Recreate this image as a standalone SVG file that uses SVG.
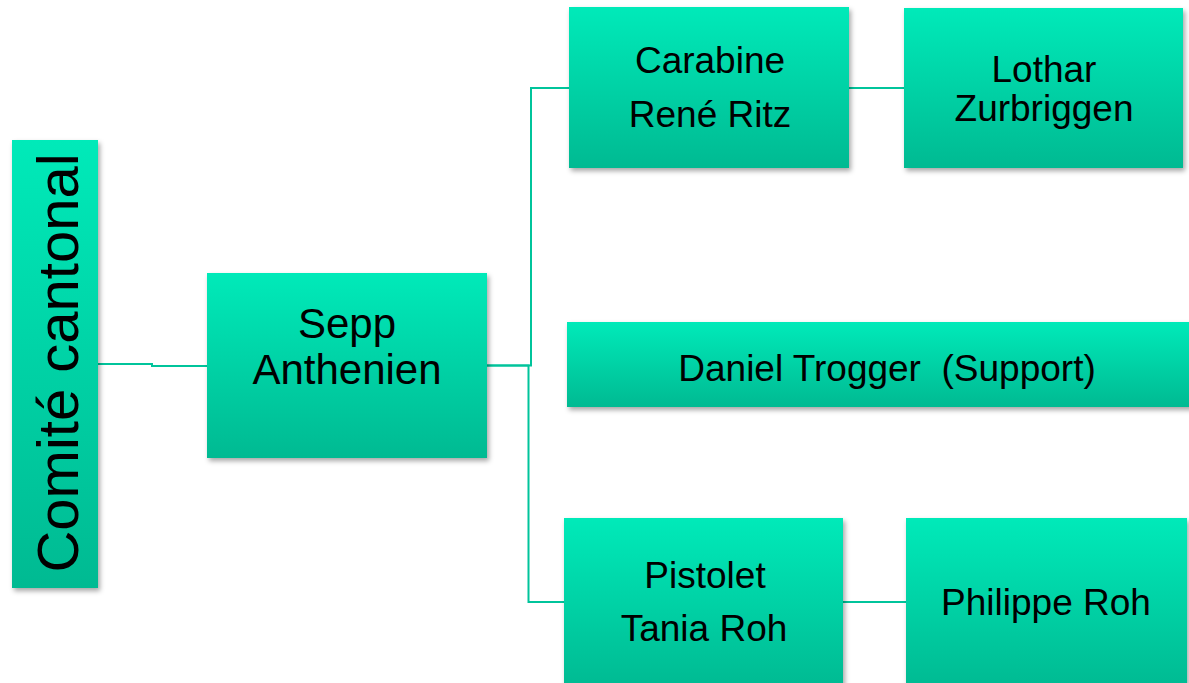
<svg xmlns="http://www.w3.org/2000/svg" width="1189" height="683" viewBox="0 0 1189 683">
<defs>
<linearGradient id="g" x1="0" y1="0" x2="0" y2="1">
<stop offset="0" stop-color="#00EAB9"/>
<stop offset="1" stop-color="#00BA92"/>
</linearGradient>
<filter id="sh" x="-10%" y="-10%" width="130%" height="130%">
<feDropShadow dx="2" dy="3" stdDeviation="2.5" flood-color="#000" flood-opacity="0.35"/>
</filter>
<style>
.box{fill:url(#g);filter:url(#sh);}
.t{font-family:"Liberation Sans",Arial,sans-serif;font-size:37px;fill:#000;text-anchor:middle;}
.c{fill:none;stroke:#00C49B;stroke-width:2;}
</style>
</defs>
<rect width="1189" height="683" fill="#fff"/>
<g id="connectors">
<path class="c" d="M98 364 H152 V366 H207"/>
<path class="c" d="M487 365.5 H531 V88 H569"/>
<path class="c" d="M487 365.5 H528.5 V602 H564"/>
<path class="c" d="M849 88 H904"/>
<path class="c" d="M843 602 H906"/>
</g>
<g id="comite">
<rect class="box" x="12" y="140" width="86" height="448"/>
<text class="t" style="font-size:58px" transform="translate(78 363) rotate(-90)">Comité cantonal</text>
</g>
<g id="sepp">
<rect class="box" x="207" y="273" width="280" height="185"/>
<text class="t" style="font-size:42px" x="347" y="338">Sepp</text>
<text class="t" style="font-size:42px" x="347" y="384">Anthenien</text>
</g>
<g id="carabine">
<rect class="box" x="569" y="7" width="280" height="161"/>
<text class="t" x="710" y="73">Carabine</text>
<text class="t" x="710" y="127">René Ritz</text>
</g>
<g id="lothar">
<rect class="box" x="904" y="8" width="279" height="160"/>
<text class="t" x="1044" y="82">Lothar</text>
<text class="t" x="1044" y="121">Zurbriggen</text>
</g>
<g id="daniel">
<rect class="box" x="567" y="322" width="640" height="85"/>
<text class="t" x="887" y="381" xml:space="preserve">Daniel Trogger  (Support)</text>
</g>
<g id="pistolet">
<rect class="box" x="564" y="518" width="279" height="170"/>
<text class="t" x="705" y="588">Pistolet</text>
<text class="t" x="704" y="641">Tania Roh</text>
</g>
<g id="philippe">
<rect class="box" x="906" y="518" width="281" height="170"/>
<text class="t" x="1046" y="615">Philippe Roh</text>
</g>
</svg>
